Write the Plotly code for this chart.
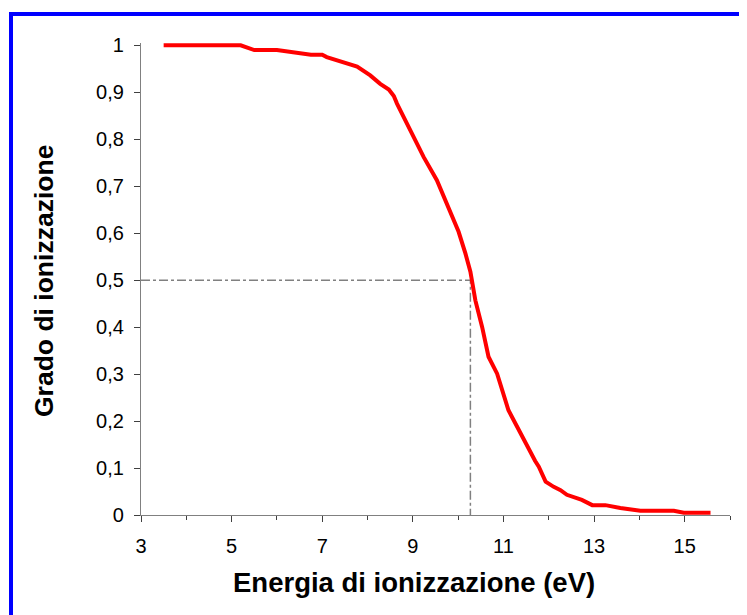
import plotly.graph_objects as go

# Data
energy = [3.5, 5.0, 5.2, 5.5, 6.0, 6.75, 7.0, 7.1, 7.77, 8.06, 8.28, 8.47, 8.58, 8.65,
          8.80, 9.02, 9.24, 9.53, 9.75, 10.01, 10.16, 10.27, 10.38, 10.53, 10.67, 10.86,
          11.11, 11.41, 11.70, 11.78, 11.93, 12.11, 12.26, 12.40, 12.73, 12.96, 13.25,
          13.58, 14.02, 14.76, 14.98, 15.57]
grado = [1.0, 1.0, 1.0, 0.99, 0.99, 0.98, 0.98, 0.975, 0.955, 0.936, 0.918, 0.906, 0.892, 0.876,
         0.847, 0.805, 0.762, 0.713, 0.663, 0.603, 0.557, 0.518, 0.457, 0.40, 0.337, 0.301,
         0.223, 0.167, 0.115, 0.103, 0.071, 0.060, 0.053, 0.043, 0.032, 0.021, 0.021,
         0.015, 0.009, 0.009, 0.005, 0.005]

half_level = 0.5
half_energy = 10.27
x_start = 3

x_tickvals = [3, 5, 7, 9, 11, 13, 15]
x_ticktext = ["3", "5", "7", "9", "11", "13", "15"]
y_tickvals = [0, 0.1, 0.2, 0.3, 0.4, 0.5, 0.6, 0.7, 0.8, 0.9, 1.0]
y_ticktext = ["0", "0,1", "0,2", "0,3", "0,4", "0,5", "0,6", "0,7", "0,8", "0,9", "1"]

x_title = "Energia di ionizzazione (eV)"
y_title = "Grado di ionizzazione"

OFF = 8  # page body margin
W, H = 747 - OFF, 615 - OFF
ML, MR, MT, MB = 133, 17, 35, 100
PW, PH = W - ML - MR, H - MT - MB


def px_x(p):
    return (p - OFF - ML) / PW


def px_y(p):
    return (H - MB - (p - OFF)) / PH


FONT = "Liberation Sans, Arial, sans-serif"

fig = go.Figure()
fig.add_trace(go.Scatter(
    x=[x_start, half_energy, half_energy],
    y=[half_level, half_level, 0],
    mode="lines",
    line=dict(color="#808080", width=1.5, dash="dashdot"),
    hoverinfo="skip", showlegend=False,
))
fig.add_trace(go.Scatter(
    x=energy, y=grado, mode="lines",
    line=dict(color="#FF0000", width=4),
    showlegend=False,
))

fig.update_layout(
    width=W, height=H,
    margin=dict(l=ML, r=MR, t=MT, b=MB, pad=0),
    paper_bgcolor="white", plot_bgcolor="white",
    font=dict(family=FONT, color="black", size=16),
    showlegend=False,
    xaxis=dict(
        range=[3, 16], showgrid=False, zeroline=False,
        showline=True, linecolor="#808080", linewidth=1.2,
        tickvals=x_tickvals, ticktext=x_ticktext,
        ticks="outside", ticklen=6, tickcolor="#404040", tickwidth=1,
        minor=dict(dtick=1, tick0=3, ticks="outside", ticklen=4, tickcolor="#404040", tickwidth=1),
        tickfont=dict(size=20, family=FONT),
        ticklabelstandoff=7,
    ),
    yaxis=dict(
        range=[0, 1.005], showgrid=False, zeroline=False,
        showline=True, linecolor="#808080", linewidth=1.2,
        tickvals=y_tickvals, ticktext=y_ticktext,
        ticks="outside", ticklen=6, tickcolor="#404040", tickwidth=1,
        tickfont=dict(size=20, family=FONT),
        ticklabelstandoff=6,
    ),
    annotations=[
        dict(text="<b>" + x_title + "</b>", xref="paper", yref="paper",
             x=px_x(414), y=px_y(582), xanchor="center", yanchor="middle",
             showarrow=False, font=dict(size=27.5, family=FONT)),
        dict(text="<b>" + y_title + "</b>", xref="paper", yref="paper",
             x=px_x(44), y=px_y(281), xanchor="center", yanchor="middle",
             textangle=-90, showarrow=False, font=dict(size=26.5, family=FONT)),
    ],
    shapes=[
        dict(type="line", xref="paper", yref="paper",
             x0=px_x(9), x1=px_x(770), y0=px_y(14), y1=px_y(14),
             line=dict(color="#0000FF", width=4)),
        dict(type="line", xref="paper", yref="paper",
             x0=px_x(11), x1=px_x(11), y0=px_y(12), y1=px_y(640),
             line=dict(color="#0000FF", width=4)),
    ],
)

fig.write_html("out.html")
